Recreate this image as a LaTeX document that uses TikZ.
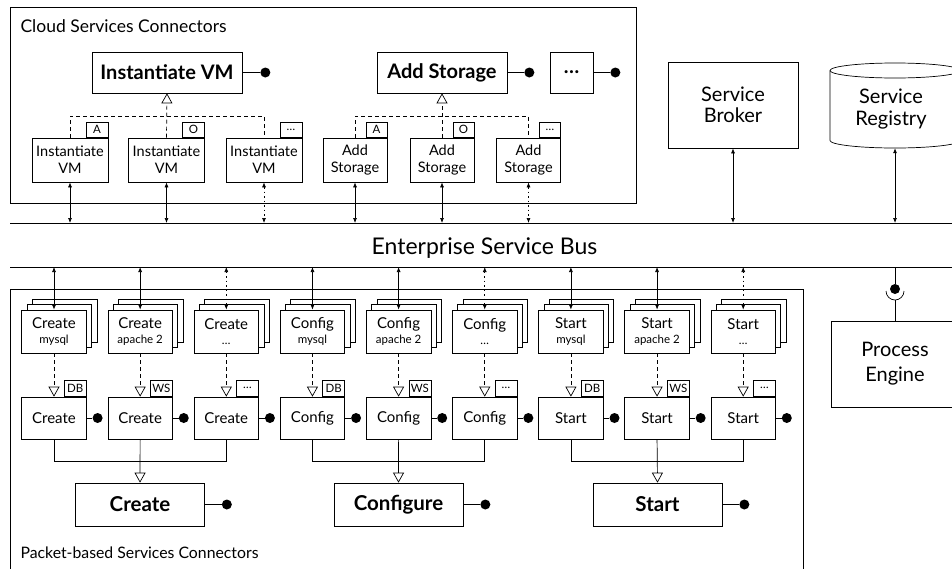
\documentclass[tikz,border=0pt]{standalone}
\usepackage{fontspec}
\setmainfont{Lato}
\usetikzlibrary{arrows.meta,shadows,calc}

\newcommand{\fs}[1]{\fontsize{#1}{#1}\selectfont}

\tikzset{
  ln/.style={line width=0.7pt},
  opbox/.style={ln, draw, fill=white, inner sep=0pt, minimum height=41pt, font=\fs{20}\bfseries},
  cbox/.style={ln, draw, fill=white, inner sep=0pt, minimum height=44pt, align=center, font=\fontsize{14.5}{17}\selectfont},
  tab/.style={ln, draw, fill=white, inner sep=0pt, minimum width=21pt, minimum height=15pt, font=\fs{11.5}},
  ball/.style={circle, fill=black, inner sep=0pt, minimum size=10pt},
  stackbox/.style={ln, draw, fill=white, inner sep=0pt, minimum width=64.5pt, minimum height=43pt, align=center,
    font=\fontsize{15}{16}\selectfont,
    double copy shadow={shadow xshift=5.3pt, shadow yshift=5.3pt}},
  lowbox/.style={ln, draw, fill=white, inner sep=0pt, minimum width=64.5pt, minimum height=42pt, font=\fs{15}},
  bigbox/.style={ln, draw, fill=white, inner sep=0pt, minimum width=129pt, minimum height=43pt, font=\fs{20.5}\bfseries},
  sysbox/.style={ln, draw, fill=white, inner sep=0pt, align=center},
  bus/.style={ln, {Latex[length=5pt,width=4pt]}-{Latex[length=5pt,width=4pt]}},
  gen/.style={ln, -{Triangle[open,length=10pt,width=11pt,fill=white]}},
  dashline/.style={dash pattern=on 4pt off 3pt},
  dotline/.style={dash pattern=on 1.5pt off 3pt},
  plain/.style={},
}

\begin{document}
\begin{tikzpicture}[x=1pt,y=-1pt]
\useasboundingbox (0,0) rectangle (952,568);

% ---------- frames and the bus ----------
\draw[ln] (10,7) rectangle (636,203);
\draw[ln] (10,289) rectangle (803,600);
\node[anchor=base west, font=\fs{17.5}] (cloudlbl) at (17,32) {Cloud Services Connectors};
\node[anchor=base west, font=\fs{15.8}] (packlbl) at (17,558) {Packet-based Services Connectors};

\coordinate (esbT) at (0,223);
\coordinate (esbB) at (0,267);
\draw[ln] (10,223) -- (960,223);
\draw[ln] (10,267) -- (960,267);
\node[anchor=base, font=\fs{23}] (esb) at (484.5,254) {Enterprise Service Bus};

% ---------- cloud services connectors ----------
\node[opbox, minimum width=150pt] (iv) at (167,72.5) {Instantiate VM};
\node[opbox, minimum width=130pt] (as) at (442,72.5) {Add Storage};
\node[opbox, minimum width=43pt] (more) at (571.5,72.5) {\ldots};
\foreach \n/\d in {iv/23, as/22, more/22}{
  \node[ball] (\n b) at ($(\n.east)+(\d,0)$) {};
  \draw[ln] (\n.east) -- (\n b);
}

\foreach \n/\x/\t in {c1/70/A, c2/166.5/O, c3/264/\ldots}{
  \node[cbox, minimum width=76pt] (\n) at (\x,160) {Instantiate\\VM};
  \node[tab, minimum width=22pt, anchor=south east] (\n t) at (\n.north east) {\t};
}
\foreach \n/\x/\t in {a1/355/A, a2/442/O, a3/528.5/\ldots}{
  \node[cbox, minimum width=64pt] (\n) at (\x,160) {Add\\Storage};
  \node[tab, anchor=south east] (\n t) at (\n.north east) {\t};
}

\coordinate (cbar) at (0,116);
\draw[ln, dashline] (c1.north) |- (c3.north |- cbar) -- (c3.north);
\draw[gen, dashline] (c2.north) -- (iv.south);
\draw[ln, dashline] (a1.north) |- (a3.north |- cbar) -- (a3.north);
\draw[gen, dashline] (a2.north) -- (as.south);

\foreach \n/\st in {c1/plain, c2/plain, c3/dotline, a1/plain, a2/plain, a3/dotline}{
  \draw[bus, \st] (\n.south) -- (\n.south |- esbT);
}

% ---------- broker, registry, process engine ----------
\node[sysbox, minimum width=130pt, minimum height=86pt, font=\fontsize{20}{21}\selectfont] (sb) at (733,105) {Service\\Broker};
\draw[bus] (sb.south) -- (sb.south |- esbT);

\node[inner sep=0pt, minimum width=130pt, minimum height=86pt] (reg) at (895,105) {};
\draw[ln, fill=white] (830,70.5) -- (830,140.5) arc[start angle=180, end angle=0, x radius=65, y radius=7.5] -- (960,70.5);
\draw[ln] (895,70.5) ellipse[x radius=65, y radius=7.5];
\node[align=center, font=\fontsize{20}{22}\selectfont] (reglbl) at (891,109) {Service\\Registry};
\draw[bus] (reg.south) -- (reg.south |- esbT);

\node[sysbox, minimum width=128pt, minimum height=86pt, font=\fontsize{20}{25}\selectfont] (pe) at (895,364) {Process\\Engine};
\node[ball] (peb) at (895,289) {};
\coordinate (sock) at (895,300);
\draw[ln] (pe.north |- esbB) -- (peb);
\draw[ln] (886,291) arc[start angle=180, end angle=0, radius=9];
\draw[ln] (sock) -- (pe.north);

% ---------- packet-based services connectors ----------
\coordinate (brk) at (0,461);
\foreach \i/\a/\b/\t/\st in {
  1/Create/mysql/DB/plain, 2/Create/apache 2/WS/plain, 3/Create/\ldots/\ldots/dotline,
  4/Config/mysql/DB/plain, 5/Config/apache 2/WS/plain, 6/Config/\ldots/\ldots/dotline,
  7/Start/mysql/DB/plain, 8/Start/apache 2/WS/plain, 9/Start/\ldots/\ldots/dotline}{
  \pgfmathsetmacro{\cx}{54+86.15*(\i-1)}
  \node[stackbox] (s\i) at (\cx,331.5) {\a\\[-1pt]{\fs{11.5}\b}};
  \node[lowbox] (l\i) at (\cx,418) {\a};
  \node[tab, minimum width=22pt, minimum height=16pt, anchor=south east] (t\i) at (l\i.north east) {\t};
  \node[ball] (lb\i) at ($(l\i.east)+(11,0)$) {};
  \draw[ln] (l\i.east) -- (lb\i);
  \draw[gen, dashline] (s\i.south) -- (l\i.north);
  \draw[bus, \st] (s\i.north |- esbB) -- (s\i.north);
}

\foreach \k/\x/\txt in {1/140/Create, 2/398.5/Configure, 3/657.5/Start}{
  \node[bigbox] (b\k) at (\x,504.5) {\txt};
  \node[ball] (bb\k) at ($(b\k.east)+(22,0)$) {};
  \draw[ln] (b\k.east) -- (bb\k);
}
\foreach \f/\m/\l/\k in {1/2/3/1, 4/5/6/2, 7/8/9/3}{
  \draw[ln] (l\f.south) |- (l\l.south |- brk) -- (l\l.south);
  \draw[gen] (l\m.south) -- (b\k.north);
}
\end{tikzpicture}
\end{document}
